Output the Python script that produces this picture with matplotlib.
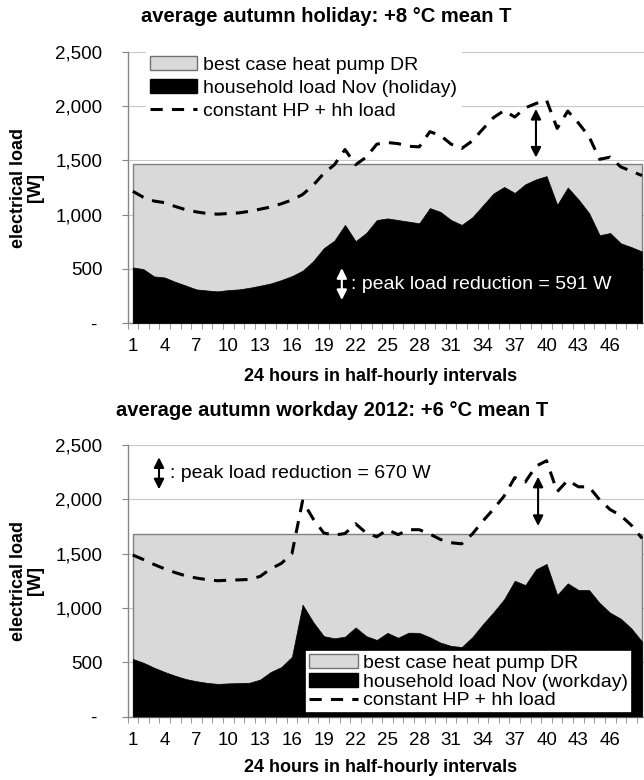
import numpy as np
import matplotlib
matplotlib.use("Agg")
import matplotlib.pyplot as plt
from matplotlib.patches import Patch
from matplotlib.lines import Line2D

plt.rcParams['font.family'] = ['Liberation Sans', 'DejaVu Sans']

# half-hourly intervals 1..49
intervals = np.arange(1, 50)

# holiday (top chart)
hh_holiday = [513, 497, 430, 420, 380, 345, 310, 300, 292, 304,
              310, 325, 344, 365, 396, 433, 482, 570, 690, 760,
              905, 755, 830, 950, 965, 950, 935, 920, 1060, 1025,
              950, 905, 975, 1085, 1195, 1255, 1200, 1280, 1325, 1355,
              1090, 1250, 1140, 1015, 810, 830, 735, 700, 660]
const_holiday = [1215, 1160, 1125, 1110, 1075, 1045, 1025, 1010, 1004, 1010,
                 1016, 1030, 1050, 1070, 1100, 1135, 1185, 1270, 1380, 1460,
                 1600, 1460, 1530, 1650, 1665, 1655, 1630, 1625, 1765, 1730,
                 1650, 1610, 1680, 1790, 1895, 1960, 1900, 1985, 2025, 2055,
                 1795, 1955, 1845, 1720, 1510, 1530, 1440, 1400, 1360]
dr_holiday = 1465

# workday (bottom chart)
hh_workday = [530, 495, 450, 410, 375, 345, 325, 310, 300, 305,
              308, 311, 340, 410, 455, 550, 1030, 870, 740, 720,
              735, 820, 740, 705, 770, 725, 772, 770, 730, 680,
              650, 640, 730, 850, 960, 1080, 1250, 1210, 1355, 1405,
              1120, 1226, 1165, 1165, 1045, 955, 900, 810, 690]
const_workday = [1487, 1445, 1400, 1360, 1325, 1295, 1275, 1260, 1250, 1255,
                 1258, 1262, 1290, 1360, 1410, 1500, 1985, 1820, 1690, 1670,
                 1685, 1775, 1690, 1655, 1720, 1675, 1720, 1720, 1680, 1630,
                 1600, 1590, 1680, 1800, 1910, 2030, 2200, 2160, 2305, 2355,
                 2070, 2175, 2115, 2115, 1995, 1905, 1850, 1760, 1640]
dr_workday = 1685

xtick_labels = list(range(1, 47, 3))
yticks = [0, 500, 1000, 1500, 2000, 2500]

grey = '#d9d9d9'
axis_grey = '#868686'
fs_tick = 13.5
fs_leg = 14
fs_lab = 13
fs_title = 14.5
dash = (4, 3.0)


def ylab(v):
    return '- ' if v == 0 else '{:,}'.format(v)


def draw(ax, hh, const, dr, hh_label):
    ax.fill_between(intervals, 0, dr, facecolor=grey, edgecolor='#808080', lw=1.0, zorder=2)
    ax.fill_between(intervals, 0, hh, facecolor='black', edgecolor='black', lw=0.5, zorder=3)
    ax.plot(intervals, const, color='black', lw=2.2, dashes=dash, zorder=4)

    ax.set_xlim(0.5, 49.4)
    ax.set_ylim(0, 2500)
    ax.set_yticks(yticks)
    ax.set_yticklabels([ylab(v) for v in yticks], fontsize=fs_tick)
    ax.yaxis.grid(True, color='#c8c8c8', lw=0.8, zorder=0)
    ax.set_axisbelow(True)

    ax.set_xticks(xtick_labels)
    ax.set_xticklabels([str(v) for v in xtick_labels], fontsize=fs_tick)
    ax.set_xticks(np.arange(0.5, 49.5, 1), minor=True)
    ax.tick_params(axis='x', which='major', length=0, pad=11)
    ax.tick_params(axis='x', which='minor', length=4, color=axis_grey, direction='out')
    ax.tick_params(axis='y', length=4, color=axis_grey, pad=14)

    for s in ['top', 'right']:
        ax.spines[s].set_visible(False)
    for s in ['left', 'bottom']:
        ax.spines[s].set_color(axis_grey)
        ax.spines[s].set_linewidth(1.0)

    handles = [Patch(facecolor=grey, edgecolor='#707070', lw=1.0),
               Patch(facecolor='black', edgecolor='black'),
               Line2D([], [], color='black', lw=2.2, dashes=dash)]
    labels = ['best case heat pump DR', hh_label, 'constant HP + hh load']
    return handles, labels


fig = plt.figure(figsize=(6.44, 7.8), dpi=100)
ax1 = fig.add_axes([127.5 / 644, 1 - 323 / 780, 518.8 / 644, 271 / 780])
ax2 = fig.add_axes([127.5 / 644, 1 - 716.5 / 780, 518.8 / 644, 271.5 / 780])

h, l = draw(ax1, hh_holiday, const_holiday, dr_holiday, 'household load Nov (holiday)')
leg1 = ax1.legend(h, l, loc='upper left', bbox_to_anchor=(0.035, 1.0), borderaxespad=0,
                  fontsize=fs_leg, frameon=True, framealpha=1, edgecolor='white', fancybox=False,
                  handlelength=2.45, handletextpad=0.3, labelspacing=0.28, borderpad=0.2)
leg1.set_zorder(5)

h, l = draw(ax2, hh_workday, const_workday, dr_workday, 'household load Nov (workday)')
leg2 = ax2.legend(h, l, loc='lower right', bbox_to_anchor=(0.973, 0.012), borderaxespad=0,
                  fontsize=fs_leg, frameon=True, framealpha=1, edgecolor='black', fancybox=False,
                  handlelength=2.5, handletextpad=0.3, labelspacing=0.06, borderpad=0.2)
leg2.get_frame().set_linewidth(1.2)
leg2.set_zorder(5)

arrow = dict(arrowstyle='<|-|>,head_length=0.6,head_width=0.3', lw=1.5, shrinkA=0, shrinkB=0)

# top chart annotations
ax1.annotate('', xy=(39, 1975), xytext=(39, 1526), arrowprops=dict(arrow, color='black'), zorder=6)
ax1.annotate('', xy=(20.7, 506), xytext=(20.7, 212), arrowprops=dict(arrow, color='white'), zorder=6)
ax1.text(21.6, 359, ': peak load reduction = 591 W', color='white', fontsize=fs_leg,
         ha='left', va='center', zorder=6)

# bottom chart annotations
ax2.annotate('', xy=(39.2, 2208), xytext=(39.2, 1754), arrowprops=dict(arrow, color='black'), zorder=6)
ax2.annotate('', xy=(3.47, 2387), xytext=(3.47, 2092), arrowprops=dict(arrow, color='black'), zorder=6)
ax2.text(4.5, 2239, ': peak load reduction = 670 W', color='black', fontsize=fs_leg,
         ha='left', va='center', zorder=6)

# titles and axis labels
fig.text(326 / 644, 1 - 16 / 780, 'average autumn holiday: +8 °C mean T', fontsize=fs_title,
         fontweight='bold', ha='center', va='center')
fig.text(332 / 644, 1 - 410 / 780, 'average autumn workday 2012: +6 °C mean T', fontsize=fs_title,
         fontweight='bold', ha='center', va='center')
fig.text(380.5 / 644, 1 - 376.7 / 780, '24 hours in half-hourly intervals', fontsize=fs_lab,
         fontweight='bold', ha='center', va='center')
fig.text(380.5 / 644, 1 - 768 / 780, '24 hours in half-hourly intervals', fontsize=fs_lab,
         fontweight='bold', ha='center', va='center')
fig.text(27 / 644, 1 - 188 / 780, 'electrical load\n[W]', fontsize=fs_lab, fontweight='bold',
         rotation=90, ha='center', va='center', multialignment='center', linespacing=1.0)
fig.text(27 / 644, 1 - 580.7 / 780, 'electrical load\n[W]', fontsize=fs_lab, fontweight='bold',
         rotation=90, ha='center', va='center', multialignment='center', linespacing=1.0)

fig.savefig('out.png', dpi=100)
